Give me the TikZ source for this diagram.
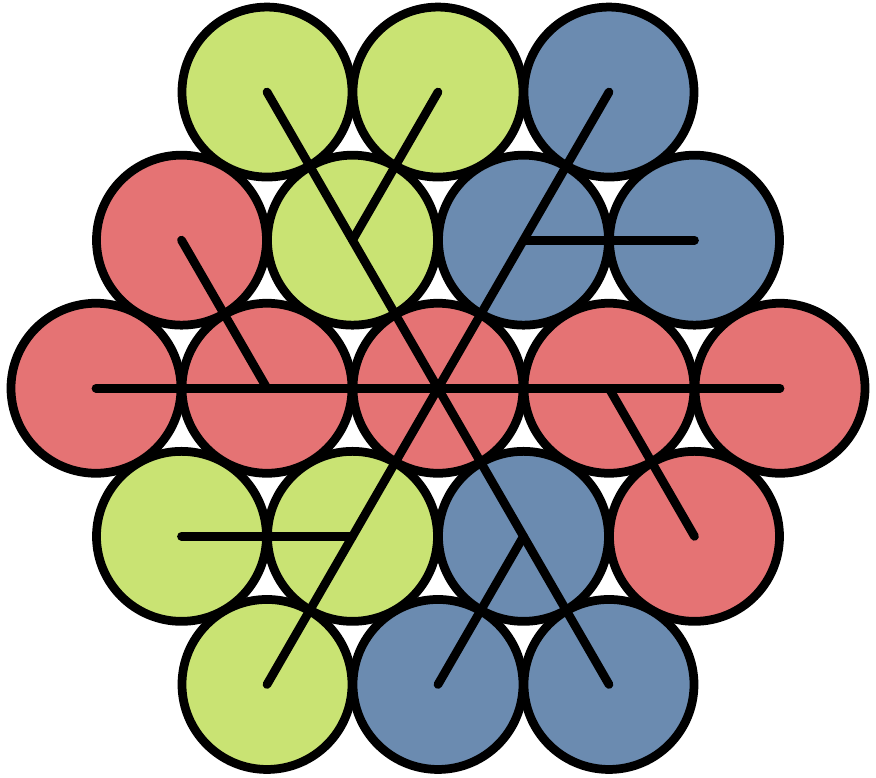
\documentclass[tikz,border=0pt]{standalone}
\usepackage{tikz}
\definecolor{cred}{RGB}{229,115,116}
\definecolor{cgreen}{RGB}{201,227,115}
\definecolor{cblue}{RGB}{107,139,176}
\tikzset{
  ball/.style={circle,draw,line width=0.175cm,minimum size=3.4cm,inner sep=0pt},
  br/.style={line width=0.175cm,line cap=round},
}

\begin{document}
\begin{tikzpicture}[x=3.42cm,y=2.962cm]
\useasboundingbox (-2.5614,-2.628) rectangle (2.5614,2.6216);
\foreach \n/\x/\y/\c in {t1/-1/2/cgreen,t2/0/2/cgreen,t3/1/2/cblue,
  a1/-1.5/1/cred,a2/-0.5/1/cgreen,a3/0.5/1/cblue,a4/1.5/1/cblue,
  m1/-2/0/cred,m2/-1/0/cred,m3/0/0/cred,m4/1/0/cred,m5/2/0/cred,
  b1/-1.5/-1/cgreen,b2/-0.5/-1/cgreen,b3/0.5/-1/cblue,b4/1.5/-1/cred,
  u1/-1/-2/cgreen,u2/0/-2/cblue,u3/1/-2/cblue}{\node[ball,fill=\c] (\n) at (\x,\y){};}
\draw[br] (m1.center)--(m5.center); \draw[br] (t1.center)--(u3.center); \draw[br] (t3.center)--(u1.center);
\draw[br] (a1.center)--(m2.center); \draw[br] (t2.center)--(a2.center); \draw[br] (a4.center)--(a3.center);
\draw[br] (b4.center)--(m4.center); \draw[br] (b1.center)--(b2.center); \draw[br] (u2.center)--(b3.center);
\end{tikzpicture}
\end{document}
